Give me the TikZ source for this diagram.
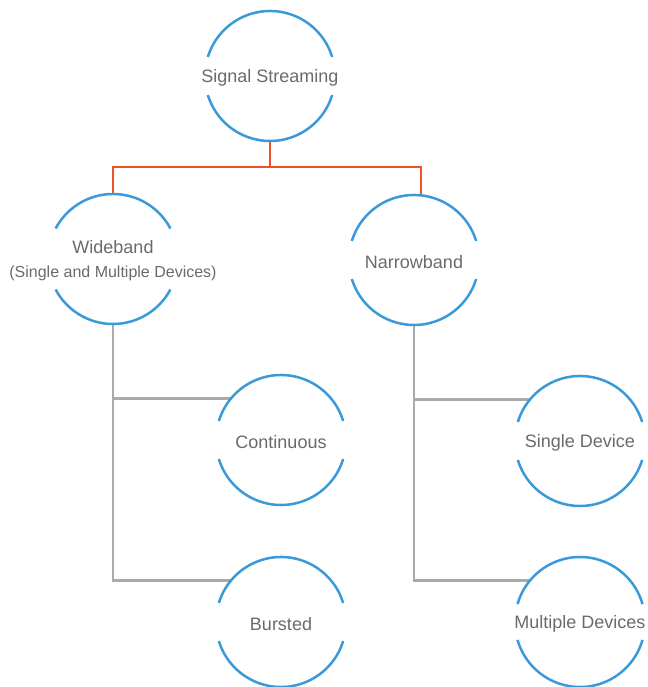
\documentclass[tikz,border=0pt]{standalone}
\usepackage{fontspec}
\setmainfont{Liberation Sans}
\definecolor{ringblue}{HTML}{3A9AD9}
\definecolor{linkred}{HTML}{EF5128}
\definecolor{linkgray}{HTML}{AAAAAD}
\definecolor{textgray}{HTML}{6A6A6A}
% circle outline left open at both sides, where the text runs through
\newcommand{\gapring}[2]{%
  \draw[ringline] (#1.#2) arc[start angle=#2,end angle=180-#2,radius=65pt];
  \draw[ringline] (#1.-#2) arc[start angle=-#2,end angle=-180+#2,radius=65pt];}
\begin{document}
\begin{tikzpicture}[x=1pt,y=1pt,
  ring/.style={circle,minimum size=130pt,inner sep=0pt,outer sep=0pt},
  ringline/.style={ringblue,line width=2.5pt},
  txt/.style={text=textgray,font=\fontsize{18}{22}\selectfont,align=center},
  redlink/.style={linkred,line width=2.8pt},
  graylink/.style={linkgray,line width=2.8pt}]
\useasboundingbox (0,0) rectangle (647,687);
\node[ring] (sig)    at (270,611) {};
\node[ring] (wide)   at (113,428) {};
\node[ring] (narrow) at (414,427) {};
\node[ring] (cont)   at (281,247) {};
\node[ring] (single) at (580,246) {};
\node[ring] (burst)  at (281,65)  {};
\node[ring] (multi)  at (580,65)  {};
% connectors
\draw[redlink] (sig.south) -- ++(0,-26) coordinate (split);
\draw[redlink] (wide.north) |- (split) -| ([xshift=7pt]narrow.north);
\draw[graylink] (wide.south) |- (burst.140);
\draw[graylink] (wide.south |- cont.140) -- (cont.140);
\draw[graylink] (narrow.south) |- (multi.140);
\draw[graylink] (narrow.south |- single.140) -- (single.140);
% outlines
\gapring{sig}{17}
\gapring{wide}{28}
\gapring{narrow}{17}
\gapring{cont}{17}
\gapring{single}{17}
\gapring{burst}{17}
\gapring{multi}{16}
% texts
\node[txt] (sigtext)    at ([yshift=-2pt]sig)    {Signal Streaming};
\node[txt] (widetext)   at ([yshift=-2pt]wide)   {Wideband\\[2pt]{\fontsize{16}{19}\selectfont(Single and Multiple Devices)}};
\node[txt] (narrowtext) at ([yshift=-2pt]narrow) {Narrowband};
\node[txt] (conttext)   at ([yshift=-2pt]cont)   {Continuous};
\node[txt] (singletext) at ([yshift=-2pt]single) {Single Device};
\node[txt] (bursttext)  at ([yshift=-2pt]burst)  {Bursted};
\node[txt] (multitext)  at ([yshift=-2pt]multi)  {Multiple Devices};
\end{tikzpicture}
\end{document}
